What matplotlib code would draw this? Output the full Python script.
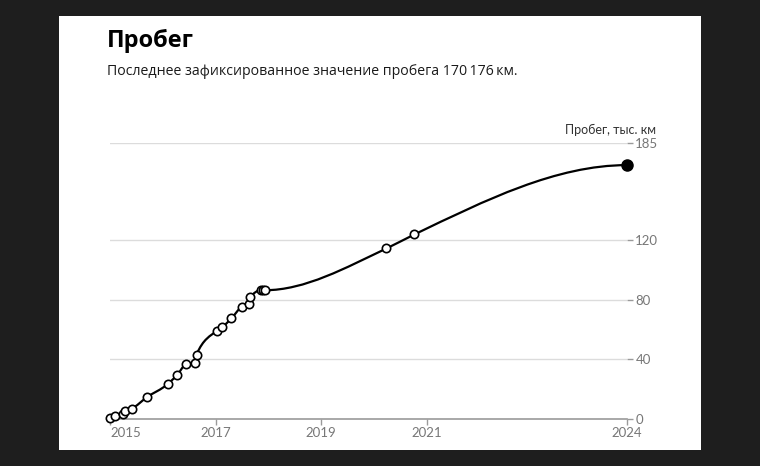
import numpy as np
import matplotlib
matplotlib.use('Agg')
from matplotlib import pyplot as plt
from matplotlib.path import Path
from matplotlib.patches import PathPatch, Rectangle

# mileage readings: date as fractional year, thousand km
years = [2015.0, 2015.10, 2015.25, 2015.29, 2015.41, 2015.70, 2016.09, 2016.27,
         2016.45, 2016.61, 2016.64, 2017.03, 2017.13, 2017.30, 2017.50, 2017.63,
         2017.66, 2017.86, 2017.90, 2017.93, 2020.24, 2020.77, 2024.80]
mileage = [0.4, 2.2, 3.4, 5.4, 6.9, 14.6, 23.3, 29.4,
           37.0, 37.8, 43.2, 59.2, 61.6, 67.4, 75.3, 76.8,
           81.5, 86.3, 86.3, 86.3, 114.3, 123.7, 170.176]

x_ticks = [2015.0, 2017.0, 2019.0, 2021.0, 2024.80]
x_labels = ['2015', '2017', '2019', '2021', '2024']
y_ticks = [0, 40, 80, 120, 185]

title = 'Пробег'
subtitle = 'Последнее зафиксированное значение пробега 170\u2009176\u2009км.'
y_label = 'Пробег, тыс. км'


def monotone_path(x, y):
    # cubic bezier path, monotone tangents, flat at the last point
    x = np.asarray(x, float)
    y = np.asarray(y, float)
    n = len(x)
    h = np.diff(x)
    s = np.diff(y) / h
    t = np.zeros(n)
    for i in range(1, n - 1):
        p = (s[i - 1] * h[i] + s[i] * h[i - 1]) / (h[i - 1] + h[i])
        t[i] = (np.sign(s[i - 1]) + np.sign(s[i])) * min(abs(s[i - 1]), abs(s[i]), 0.5 * abs(p))
    t[0] = (3 * s[0] - t[1]) / 2
    t[-1] = 0.0
    verts = [(x[0], y[0])]
    codes = [Path.MOVETO]
    for i in range(n - 1):
        dx = h[i] / 3
        verts += [(x[i] + dx, y[i] + dx * t[i]),
                  (x[i + 1] - dx, y[i + 1] - dx * t[i + 1]),
                  (x[i + 1], y[i + 1])]
        codes += [Path.CURVE4] * 3
    return Path(verts, codes)


fig = plt.figure(figsize=(7.6, 4.66), dpi=100, facecolor='#1e1e1e')
fig.patches.append(Rectangle((59 / 760, 1 - 450 / 466), 642 / 760, 434 / 466,
                             transform=fig.transFigure, facecolor='white',
                             edgecolor='none', zorder=-5))

ax = fig.add_axes([110 / 760, 1 - 419 / 466, 517 / 760, 276 / 466])
ax.set_zorder(2)
ax.set_facecolor('none')
ax.set_xlim(years[0], years[-1])
ax.set_ylim(0, 185)

for s in ['top', 'left', 'right']:
    ax.spines[s].set_visible(False)
ax.spines['bottom'].set_color('#9a9a9a')
ax.spines['bottom'].set_linewidth(1.2)

ax.yaxis.tick_right()
ax.set_yticks(y_ticks)
ax.set_xticks(x_ticks)
ax.set_xticklabels(x_labels)
ax.tick_params(axis='both', colors='#9a9a9a', labelcolor='#777777', labelsize=9.5,
               length=4, width=1, pad=2)
for lbl in ax.get_yticklabels() + ax.get_xticklabels():
    lbl.set_family('Lato')
ax.get_xticklabels()[0].set_horizontalalignment('left')

for v in y_ticks[1:]:
    ax.axhline(v, color='#dcdcdc', lw=1, zorder=1)

ax.add_patch(PathPatch(monotone_path(years, mileage), facecolor='none',
                       edgecolor='black', lw=1.6, zorder=3, clip_on=False))
ax.plot(years[:-1], mileage[:-1], 'o', ms=6, mfc='white', mec='black', mew=1.2,
        zorder=4, clip_on=False)
ax.plot(years[-1:], mileage[-1:], 'o', ms=8, mfc='black', mec='black',
        zorder=5, clip_on=False)

fig.text(107 / 760, 1 - 47 / 466, title, fontsize=17, fontweight='bold',
         family=['Open Sans', 'DejaVu Sans'], color='black', va='baseline')
fig.text(107 / 760, 1 - 75 / 466, subtitle, fontsize=10.2,
         family=['Open Sans', 'DejaVu Sans'], color='#1a1a1a', va='baseline')
fig.text(656 / 760, 1 - 134 / 466, y_label, fontsize=9, family=['Lato', 'DejaVu Sans'],
         color='#333333', ha='right', va='baseline')

fig.savefig('out.png', dpi=100, facecolor=fig.get_facecolor())
plt.close(fig)
